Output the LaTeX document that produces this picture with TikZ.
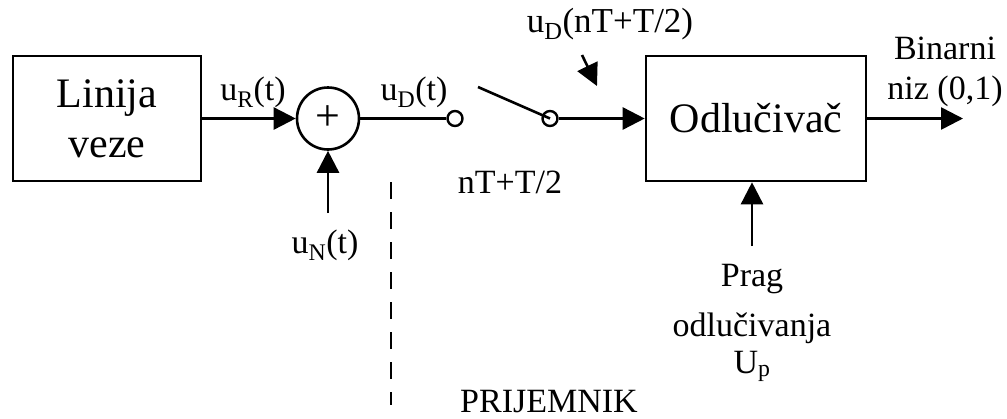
\documentclass[tikz,border=0pt]{standalone}
\usepackage{fontspec}
\setmainfont{Liberation Serif}
\usetikzlibrary{arrows.meta}
\begin{document}
\begin{tikzpicture}[x=1pt,y=-1pt,
  line width=2.6pt,
  blk/.style={draw, line width=2.6pt, inner sep=0pt, align=center,
    font=\fontsize{42}{50}\selectfont},
  lbl/.style={inner sep=0pt, align=center, anchor=base,
    font=\fontsize{34}{40}\selectfont},
  arr/.style={-{Triangle[length=22pt,width=22pt]}},
  dot/.style={draw, circle, line width=2.4pt, minimum size=15pt, inner sep=0pt},
]
\useasboundingbox (0,0) rectangle (1007,418);
% blocks
\node[blk, minimum width=188pt, minimum height=125pt] (lin) at (107,118.5) {Linija\\veze};
\node[blk, minimum width=220pt, minimum height=125pt] (odl) at (756,118.5) {Odlučivač};
\node[draw, circle, line width=2.6pt, minimum size=62pt, inner sep=0pt,
  font=\fontsize{44}{44}\selectfont] (sum) at (328,118.5) {+};
\node[dot] (c1) at (455,118.5) {};
\node[dot] (c2) at (550,118.5) {};
% coordinates
\coordinate (nin) at (328,213);
\coordinate (sw) at (478,87);
\coordinate (smp) at (582,55);
\coordinate (smpt) at (597,86);
\coordinate (out) at (963,118.5);
\coordinate (thr) at (752,246);
\coordinate (dtop) at (391,182);
\coordinate (dbot) at (391,405);
% connectors
\draw[arr] (lin.east) -- (sum.west);
\draw[arr] (nin) -- (sum.south);
\draw (sum.east) -- (c1.west);
\draw (sw) -- (c2.center);
\draw[arr] (c2.east) -- (odl.west);
\draw[arr] (smp) -- (smpt);
\draw[arr] (odl.east) -- (out);
\draw[arr] (thr) -- (thr |- odl.south);
\draw[line width=2.4pt, dash pattern=on 17pt off 13pt] (dtop) -- (dbot);
% labels
\node[lbl] (lr) at (253,100) {u\textsubscript{R}(t)};
\node[lbl] (ld) at (414,100) {u\textsubscript{D}(t)};
\node[lbl] (ln) at (325,253) {u\textsubscript{N}(t)};
\node[lbl] (lt) at (510,193) {nT+T/2};
\node[lbl, font=\fontsize{35}{40}\selectfont] (ls) at (610,32) {u\textsubscript{D}(nT+T/2)};
\node[lbl] (lb) at (945,99) {Binarni\\niz (0,1)};
\node[lbl, font=\fontsize{34}{50}\selectfont] (lp) at (752,373) {Prag\\odlučivanja\\[-13pt]U\textsubscript{p}};
\node[lbl] (lpr) at (549,412) {PRIJEMNIK};
\end{tikzpicture}
\end{document}
